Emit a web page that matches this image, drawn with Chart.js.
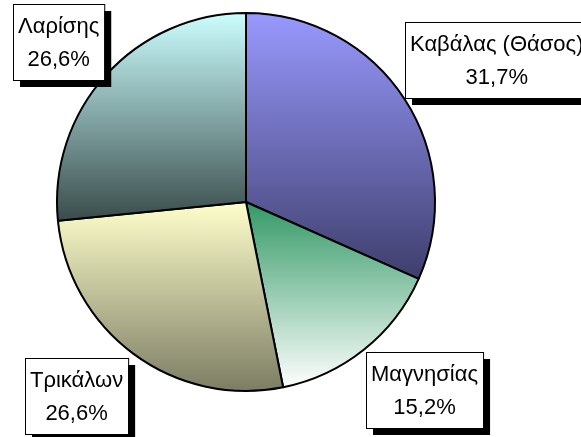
<!DOCTYPE html>
<html lang="el">

<head>
    <meta charset="UTF-8">
    <meta name="viewport" content="width=device-width, initial-scale=1.0">
    <title>Πίτα νομών</title>
    <style>
        html, body {
            margin: 0;
            padding: 0;
            background: #ffffff;
        }

        .grafico {
            position: relative;
            width: 581px;
            height: 437px;
        }
    </style>
</head>

<body>
    <div class="grafico">
        <canvas id="graficoPita" width="581" height="437"></canvas>
    </div>

    <script src="https://cdn.jsdelivr.net/npm/chart.js"></script>
    <script>
        const nomoi = ['Καβάλας (Θάσος)', 'Μαγνησίας', 'Τρικάλων', 'Λαρίσης']
        const pososta = [31.7, 15.2, 26.6, 26.6]
        const etiketesPososton = ['31,7%', '15,2%', '26,6%', '26,6%']

        // χρώματα διαβάθμισης (πάνω -> κάτω) για κάθε κομμάτι
        const xromataPano = ['#9999ff', '#339966', '#ffffcc', '#ccffff']
        const xromataKato = ['#3e3e6c', '#ffffff', '#7c7c64', '#3a4c4b']

        // θέσεις των πλαισίων (πάνω αριστερή γωνία)
        const theseisPlaision = [
            { x: 405, y: 22 },
            { x: 366, y: 352 },
            { x: 25, y: 358 },
            { x: 13, y: 4 }
        ]

        // βρίσκει το πάνω και κάτω όριο ενός κομματιού για τη διαβάθμιση
        function oriaKommatiou(cx, cy, r, arxi, telos) {
            const ys = [cy, cy + r * Math.sin(arxi), cy + r * Math.sin(telos)]
            for (let k = -4; k <= 4; k++) {
                const a = Math.PI / 2 + k * Math.PI
                if (a > arxi && a < telos) ys.push(cy + r * Math.sin(a))
            }
            return [Math.min(...ys), Math.max(...ys)]
        }

        function xromaKommatiou(context) {
            const chart = context.chart
            const i = context.dataIndex
            const area = chart.chartArea
            if (!area) return xromataPano[i]

            const cx = (area.left + area.right) / 2
            const cy = (area.top + area.bottom) / 2
            const r = Math.min(area.right - area.left, area.bottom - area.top) / 2
            const synolo = pososta.reduce((a, b) => a + b, 0)

            let arxi = -Math.PI / 2
            for (let j = 0; j < i; j++) arxi += pososta[j] / synolo * Math.PI * 2
            const telos = arxi + pososta[i] / synolo * Math.PI * 2

            const [pano, kato] = oriaKommatiou(cx, cy, r, arxi, telos)
            const grad = chart.ctx.createLinearGradient(0, pano, 0, kato)
            grad.addColorStop(0, xromataPano[i])
            grad.addColorStop(1, xromataKato[i])
            return grad
        }

        const pluginEtiketes = {
            id: 'etiketes',
            afterDraw(chart) {
                const ctx = chart.ctx
                ctx.save()
                ctx.font = '22px "Liberation Sans", Arial, sans-serif'
                ctx.textAlign = 'center'
                ctx.textBaseline = 'middle'

                nomoi.forEach((nomos, i) => {
                    const thesi = theseisPlaision[i]
                    const platos = Math.max(ctx.measureText(nomos).width, ctx.measureText(etiketesPososton[i]).width) + 10
                    const ypsos = 76
                    const skia = 7

                    ctx.fillStyle = '#000000'
                    ctx.fillRect(thesi.x + skia, thesi.y + skia, platos, ypsos)

                    ctx.fillStyle = '#ffffff'
                    ctx.fillRect(thesi.x, thesi.y, platos, ypsos)
                    ctx.lineWidth = 1
                    ctx.strokeStyle = '#000000'
                    ctx.strokeRect(thesi.x + 0.5, thesi.y + 0.5, platos, ypsos)

                    ctx.fillStyle = '#000000'
                    const mesi = thesi.x + platos / 2
                    ctx.fillText(nomos, mesi, thesi.y + ypsos / 2 - 15)
                    ctx.fillText(etiketesPososton[i], mesi, thesi.y + ypsos / 2 + 18)
                })
                ctx.restore()
            }
        }

        const ctx = document.getElementById('graficoPita')

        new Chart(ctx, {
            type: 'pie',
            data: {
                labels: nomoi,
                datasets: [{
                    data: pososta,
                    backgroundColor: xromaKommatiou,
                    borderColor: '#000000',
                    borderWidth: 2
                }]
            },
            options: {
                responsive: false,
                maintainAspectRatio: false,
                animation: false,
                layout: {
                    padding: { top: 12, bottom: 45, left: 56, right: 145 }
                },
                plugins: {
                    legend: { display: false },
                    tooltip: { enabled: false }
                }
            },
            plugins: [pluginEtiketes]
        })
    </script>
</body>

</html>
